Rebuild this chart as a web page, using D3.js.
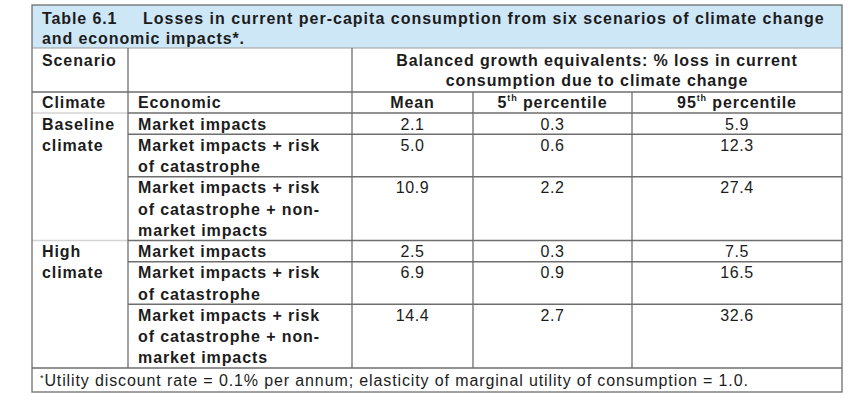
<!DOCTYPE html>
<html><head><meta charset="utf-8">
<script src="https://cdn.jsdelivr.net/npm/d3@7"></script>
<style>
html,body{margin:0;padding:0;background:#fff;}
svg{display:block;}
text{font-family:"Liberation Sans",Arial,sans-serif;fill:#1c1c1c;}
</style>
</head><body>
<svg id="c" width="858" height="405"></svg>
<script>
// ---- data ----
const tableNumber = "Table 6.1";
const titleMain = "Losses in current per-capita consumption from six scenarios of climate change";
const titleCont = "and economic impacts*.";
const scenarioHeader = "Scenario";
const groupHeader = ["Balanced growth equivalents: % loss in current", "consumption due to climate change"];
const columnHeaders = ["Climate", "Economic", "Mean", "5th percentile", "95th percentile"];
const climates = [["Baseline", "climate"], ["High", "climate"]];
const economics = [["Market impacts"], ["Market impacts + risk", "of catastrophe"], ["Market impacts + risk", "of catastrophe + non-", "market impacts"]];
const meanLoss = [2.1, 5.0, 10.9, 2.5, 6.9, 14.4];
const p5Loss = [0.3, 0.6, 2.2, 0.3, 0.9, 2.7];
const p95Loss = [5.9, 12.3, 27.4, 7.5, 16.5, 32.6];
const footnote = "Utility discount rate = 0.1% per annum; elasticity of marginal utility of consumption = 1.0.";

// ---- build rows ----
const rows = [];
let lineStart = 0;
climates.forEach((c, ci) => {
  economics.forEach((e, ei) => {
    const i = ci * economics.length + ei;
    rows.push({climate: ci, econ: e, first: ei === 0, last: ei === economics.length - 1,
      start: lineStart, lines: e.length, mean: meanLoss[i], p5: p5Loss[i], p95: p95Loss[i]});
    lineStart += e.length;
  });
});
const totalLines = lineStart;

// ---- layout ----
const L = 32, R = 842, T = 5;
const colEdges = [L, 128, 352, 473, 632, R];
const yTitleBottom = 48, yHead1 = 92, yHead2 = 113, yBody = 368, yBottom = 392;
const y = d3.scaleLinear().domain([0, totalLines]).range([yHead2, yBody]);
const lineH = (yBody - yHead2) / totalLines;
const fmt = d3.format(".1f");
const colCenter = k => (colEdges[k] + colEdges[k + 1]) / 2;

const svg = d3.select("#c");
const dark = "#6e6e6e", light = "#d4d4d4";

// title band
svg.append("rect").attr("x", L).attr("y", T).attr("width", R - L).attr("height", yTitleBottom - T)
  .attr("fill", "#cde7f7");

function hline(y0, x0, x1, col, w) {
  svg.append("line").attr("x1", x0).attr("x2", x1).attr("y1", y0).attr("y2", y0)
    .attr("stroke", col).attr("stroke-width", w || 1.3);
}
function vline(x0, y0, y1, col, w) {
  svg.append("line").attr("x1", x0).attr("x2", x0).attr("y1", y0).attr("y2", y1)
    .attr("stroke", col).attr("stroke-width", w || 1.3);
}

hline(yTitleBottom, L, R, "#9a9a9a", 1);
hline(yHead1, L, R, dark);
hline(yHead2, L, colEdges[1], light);
hline(yHead2, colEdges[1], R, dark);
rows.forEach(r => {
  if (r.start === 0) return;
  if (r.first) hline(y(r.start), L, colEdges[1], light);
  hline(y(r.start), colEdges[1], R, dark);
});
hline(yBody, L, R, dark);
vline(colEdges[1], yTitleBottom, yBody, dark);
vline(colEdges[2], yTitleBottom, yBody, dark);
vline(colEdges[3], yHead1, yBody, dark);
vline(colEdges[4], yHead1, yBody, dark);
// outer border
svg.append("rect").attr("x", L).attr("y", T).attr("width", R - L).attr("height", yBottom - T)
  .attr("fill", "none").attr("stroke", dark).attr("stroke-width", 1.3);

const FS = 16, LS = 0.9;
function txt(x, yy, s, opts = {}) {
  return svg.append("text").attr("x", x).attr("y", yy).text(s)
    .attr("font-size", opts.size || FS)
    .attr("font-weight", opts.weight || "bold")
    .attr("letter-spacing", opts.ls !== undefined ? opts.ls : LS)
    .attr("text-anchor", opts.anchor || "start");
}

// title
txt(42, 24, tableNumber);
txt(143, 24, titleMain, {ls: 1.0});
txt(42, 44, titleCont);

// headers
txt(42, 66, scenarioHeader);
groupHeader.forEach((g, i) => txt((colEdges[2] + R) / 2, 66 + i * 20, g, {anchor: "middle"}));
txt(42, 108, columnHeaders[0]);
txt(138, 108, columnHeaders[1]);
txt(colCenter(2), 108, columnHeaders[2], {anchor: "middle"});
[3, 4].forEach(k => {
  const parts = columnHeaders[k].match(/^(\d+)(th)(.*)$/);
  const t = svg.append("text").attr("x", colCenter(k)).attr("y", 108)
    .attr("font-size", FS).attr("font-weight", "bold").attr("letter-spacing", LS)
    .attr("text-anchor", "middle");
  t.append("tspan").text(parts[1]);
  t.append("tspan").text(parts[2]).attr("font-size", 9).attr("dy", -7);
  t.append("tspan").text(parts[3]).attr("dy", 7);
});

// body
const base = 16.5;
climates.forEach((c, ci) => {
  const r0 = rows.find(r => r.climate === ci && r.first);
  c.forEach((s, li) => txt(42, y(r0.start) + base + li * lineH, s));
});
rows.forEach(r => {
  r.econ.forEach((s, li) => txt(138, y(r.start) + base + li * lineH, s));
  [[2, r.mean], [3, r.p5], [4, r.p95]].forEach(([k, v]) =>
    txt(colCenter(k), y(r.start) + base, fmt(v), {weight: "normal", anchor: "middle", ls: 0.6}));
});

// footnote
const f = svg.append("text").attr("x", 40).attr("y", 386).attr("font-size", FS)
  .attr("letter-spacing", 0.88);
f.append("tspan").text("*").attr("font-size", 9).attr("dy", -5);
f.append("tspan").text(footnote).attr("dy", 5);
</script>
</body></html>
